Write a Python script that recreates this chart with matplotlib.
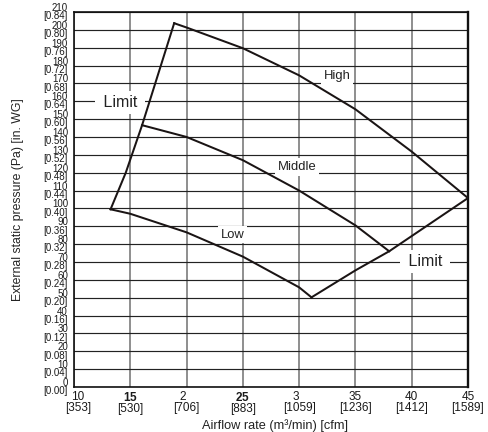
import matplotlib
matplotlib.use("Agg")
import matplotlib.pyplot as plt
from matplotlib.transforms import ScaledTranslation

plt.rcParams['font.family'] = ['Liberation Sans', 'DejaVu Sans']
plt.rcParams['mathtext.fontset'] = 'custom'
plt.rcParams['mathtext.rm'] = 'Liberation Sans'
plt.rcParams['mathtext.bf'] = 'Liberation Sans:bold'

# ---- data ----
pa_ticks = [0, 10, 20, 30, 40, 50, 60, 70, 80, 90, 100,
            110, 120, 130, 140, 150, 160, 170, 180, 190, 200, 210]
inwg_labels = ["0.00", "0.04", "0.08", "0.12", "0.16", "0.20", "0.24", "0.28",
               "0.32", "0.36", "0.40", "0.44", "0.48", "0.52", "0.56", "0.60",
               "0.64", "0.68", "0.72", "0.76", "0.80", "0.84"]
flow_ticks = [10, 15, 20, 25, 30, 35, 40, 45]
flow_labels = ["10", "15", "2\u2007", "25", "3\u2007", "35", "40", "45"]
cfm_labels = ["353", "530", "706", "883", "1059", "1236", "1412", "1589"]
flow_bold = [False, True, False, True, False, False, False, False]

high_x = [18.9, 20, 25, 30, 35, 40, 45]
high_y = [203.7, 201.3, 189.7, 174.5, 155.5, 131.8, 105.8]
middle_x = [16.05, 20, 25, 30, 35, 38.0]
middle_y = [146.6, 140.0, 127.0, 110.0, 90.5, 76.0]
low_x = [13.25, 15, 20, 25, 30, 31.1]
low_y = [99.5, 97.0, 86.6, 73.0, 55.8, 50.2]
limit_left_x = [13.25, 14.6, 16.05, 18.9]
limit_left_y = [99.5, 120.0, 146.6, 203.7]
limit_right_x = [31.1, 35, 38.0, 45]
limit_right_y = [50.2, 65.3, 76.0, 105.8]

# ---- figure ----
fig = plt.figure(figsize=(4.88, 4.32), dpi=100)
ax = fig.add_axes([0.1516, 0.1042, 0.8074, 0.8681])
ax.set_xlim(10, 45)
ax.set_ylim(0, 210)

ylabels = [f"{p}\n[{w}]" for p, w in zip(pa_ticks, inwg_labels)]
ax.set_yticks(pa_ticks, labels=ylabels)
xlabels = []
for n, c, b in zip(flow_labels, cfm_labels, flow_bold):
    top = f"$\\mathbf{{{n}}}$" if b else n
    xlabels.append(f"{top}\n[{c}]")
ax.set_xticks(flow_ticks, labels=xlabels)

ax.tick_params(axis='both', length=0, labelcolor='#1a1a1a')
ax.tick_params(axis='y', pad=4.3, labelsize=7.0)
ax.tick_params(axis='x', pad=3.2, labelsize=8.5)
for t in ax.get_yticklabels():
    t.set_linespacing(0.78)
for t in ax.get_xticklabels():
    t.set_linespacing(0.85)
    t.set_multialignment('center')
first = ax.get_xticklabels()[0]
first.set_transform(first.get_transform() + ScaledTranslation(4 / 100, 0, fig.dpi_scale_trans))

ax.xaxis.grid(True, color='#707070', lw=1.1, zorder=0)
ax.yaxis.grid(True, color='#222222', lw=0.85, zorder=0)
ax.set_axisbelow(True)
for s in ['left', 'top', 'bottom']:
    ax.spines[s].set_linewidth(1.2)
    ax.spines[s].set_color('#111111')
ax.spines['right'].set_linewidth(1.7)
ax.spines['right'].set_color('#111111')

line_kw = dict(color='#1a1414', lw=1.45, solid_joinstyle='miter', zorder=4)
ax.plot(high_x, high_y, **line_kw)
ax.plot(middle_x, middle_y, **line_kw)
ax.plot(low_x, low_y, **line_kw)
ax.plot(limit_left_x, limit_left_y, **line_kw)
ax.plot(limit_right_x, limit_right_y, **line_kw)

box_small = dict(boxstyle='square,pad=0.2', fc='white', ec='none')
box_big = dict(boxstyle='square,pad=0.25', fc='white', ec='none')
ax.text(33.4, 172.3, "High", ha='center', va='baseline', fontsize=9.4,
        color='#222222', bbox=box_small, zorder=3)
ax.text(29.8, 121.5, "Middle", ha='center', va='baseline', fontsize=9.4,
        color='#222222', bbox=box_small, zorder=3)
ax.text(24.1, 83.5, "Low", ha='center', va='baseline', fontsize=9.4,
        color='#222222', bbox=box_small, zorder=3)
ax.text(14.09, 156.9, " Limit ", ha='center', va='baseline', fontsize=11.5,
        color='#222222', bbox=box_big, zorder=3)
ax.text(41.18, 67.9, " Limit ", ha='center', va='baseline', fontsize=11.5,
        color='#222222', bbox=box_big, zorder=3)

ax.set_xlabel("Airflow rate (m\u00b3/min) [cfm]", fontsize=9.2, color='#222222')
ax.set_ylabel("External static pressure (Pa) [in. WG]", fontsize=8.8, color='#222222')
ax.xaxis.set_label_coords(0.509, -0.086)
ax.yaxis.set_label_coords(-0.128, 0.5)

fig.savefig("out.png", dpi=100)
